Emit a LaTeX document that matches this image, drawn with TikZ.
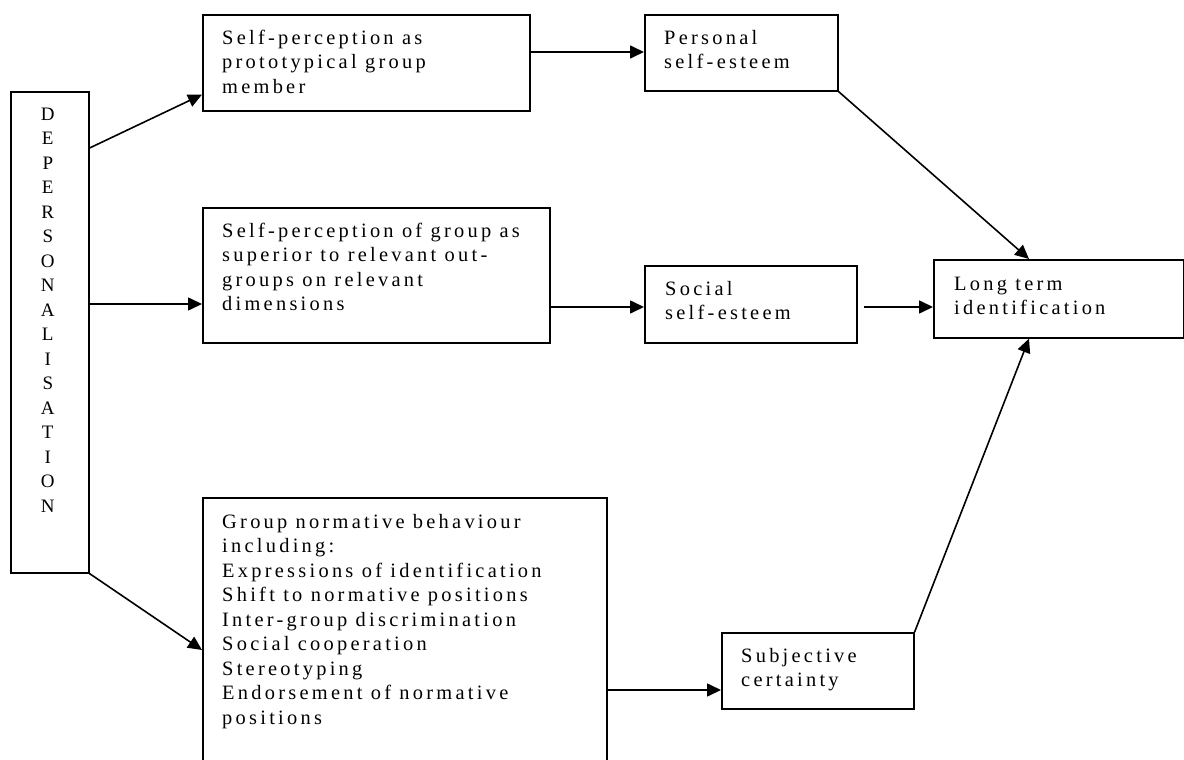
\documentclass[tikz,border=0pt]{standalone}
\usepackage{fontspec}
\setmainfont{Liberation Serif}[LetterSpace=16]
\newfontfamily\plainserif{Liberation Serif}
\usetikzlibrary{arrows.meta,calc}
\tikzset{
  box/.style={draw, line width=1.6pt, rectangle, inner sep=0pt, anchor=north west},
  lbl/.style={anchor=north west, inner sep=0pt, align=left, font=\fontsize{20.4}{24.5}\selectfont},
  vlbl/.style={anchor=north, inner sep=0pt, align=center, font=\plainserif\fontsize{19}{24.5}\selectfont},
  arr/.style={line width=1.6pt, -{Triangle[length=14pt,width=13pt]}},
}
\begin{document}
\begin{tikzpicture}[x=1pt,y=-1pt]
\clip (0,0) rectangle (1184,760);
% boxes
\node[box, minimum width=78pt, minimum height=481pt] (D) at (10,91) {};
\node[box, minimum width=327pt, minimum height=96pt] (b1) at (202,14) {};
\node[box, minimum width=347pt, minimum height=135pt] (b2) at (202,207) {};
\node[box, minimum width=404pt, minimum height=290pt] (b3) at (202,497) {};
\node[box, minimum width=193pt, minimum height=76pt] (P) at (644,14) {};
\node[box, minimum width=212pt, minimum height=77pt] (soc) at (644,265) {};
\node[box, minimum width=250pt, minimum height=78pt] (L) at (933,259) {};
\node[box, minimum width=192pt, minimum height=76pt] (S) at (721,632) {};
% texts
\node[vlbl] (tD) at ($(D.north)+(-2,11.85)$) {\strut D\\E\\P\\E\\R\\S\\O\\N\\A\\L\\I\\S\\A\\T\\I\\O\\N};
\node[lbl] (t1) at ($(b1.north west)+(20,12.85)$) {\strut Self-perception as\\prototypical group\\member};
\node[lbl] (t2) at ($(b2.north west)+(20,12.85)$) {\strut Self-perception of group as\\superior to relevant out-\\groups on relevant\\dimensions};
\node[lbl] (t3) at ($(b3.north west)+(20,13.85)$) {\strut Group normative behaviour\\including:\\Expressions of identification\\Shift to normative positions\\Inter-group discrimination\\Social cooperation\\Stereotyping\\Endorsement of normative\\positions};
\node[lbl] (tP) at ($(P.north west)+(20,12.85)$) {\strut Personal\\self-esteem};
\node[lbl] (tsoc) at ($(soc.north west)+(21,12.85)$) {\strut Social\\self-esteem};
\node[lbl] (tL) at ($(L.north west)+(21,13.85)$) {\strut Long term\\identification};
\node[lbl] (tS) at ($(S.north west)+(20,12.85)$) {\strut Subjective\\certainty};
% connectors
\draw[arr] ($(D.north east)+(0,57)$) -- ($(b1.south west)+(0,-17)$);
\draw[arr] ($(D.north east)+(0,213)$) -- ($(b2.north west)+(0,97)$);
\draw[arr] (D.south east) -- ($(b3.north west)+(0,153)$);
\draw[arr] ($(b1.north east)+(0,38)$) -- ($(P.north west)+(0,38)$);
\draw[arr] (P.south east) -- ($(L.north west)+(96,0)$);
\draw[arr] ($(b2.north east)+(0,100)$) -- ($(soc.north west)+(0,42)$);
\draw[arr] ($(soc.north east)+(6,42)$) -- ($(L.north west)+(0,48)$);
\draw[arr] ($(b3.north east)+(0,193)$) -- ($(S.north west)+(0,58)$);
\draw[arr] (S.north east) -- ($(L.south west)+(96,0)$);
\end{tikzpicture}
\end{document}
